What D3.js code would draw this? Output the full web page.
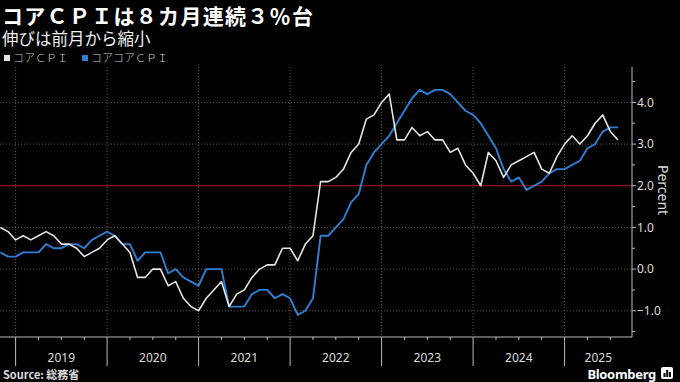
<!DOCTYPE html>
<html><head><meta charset="utf-8">
<script src="https://cdn.jsdelivr.net/npm/d3@7"></script>
<style>body{margin:0;background:#000}svg{display:block}</style>
</head><body>
<svg id="c" width="680" height="382"></svg>
<script>
// ---- data ----
const months = [
 "2018-10","2018-11","2018-12",
 "2019-01","2019-02","2019-03","2019-04","2019-05","2019-06","2019-07","2019-08","2019-09","2019-10","2019-11","2019-12",
 "2020-01","2020-02","2020-03","2020-04","2020-05","2020-06","2020-07","2020-08","2020-09","2020-10","2020-11","2020-12",
 "2021-01","2021-02","2021-03","2021-04","2021-05","2021-06","2021-07","2021-08","2021-09","2021-10","2021-11","2021-12",
 "2022-01","2022-02","2022-03","2022-04","2022-05","2022-06","2022-07","2022-08","2022-09","2022-10","2022-11","2022-12",
 "2023-01","2023-02","2023-03","2023-04","2023-05","2023-06","2023-07","2023-08","2023-09","2023-10","2023-11","2023-12",
 "2024-01","2024-02","2024-03","2024-04","2024-05","2024-06","2024-07","2024-08","2024-09","2024-10","2024-11","2024-12",
 "2025-01","2025-02","2025-03","2025-04","2025-05","2025-06","2025-07"
];
const coreCPI = [
 1.0, 0.9, 0.7,
 0.8, 0.7, 0.8, 0.9, 0.8, 0.6, 0.6, 0.5, 0.3, 0.4, 0.5, 0.7,
 0.8, 0.6, 0.4, -0.2, -0.2, 0.0, 0.0, -0.4, -0.3, -0.7, -0.9, -1.0,
 -0.7, -0.5, -0.3, -0.9, -0.6, -0.5, -0.2, 0.0, 0.1, 0.1, 0.5, 0.5,
 0.2, 0.6, 0.8, 2.1, 2.1, 2.2, 2.4, 2.8, 3.0, 3.6, 3.7, 4.0,
 4.2, 3.1, 3.1, 3.4, 3.2, 3.3, 3.1, 3.1, 2.8, 2.9, 2.5, 2.3,
 2.0, 2.8, 2.6, 2.2, 2.5, 2.6, 2.7, 2.8, 2.4, 2.3, 2.7, 3.0,
 3.2, 3.0, 3.2, 3.5, 3.7, 3.3, 3.1
];
const coreCoreCPI = [
 0.4, 0.3, 0.3,
 0.4, 0.4, 0.4, 0.6, 0.5, 0.5, 0.6, 0.6, 0.5, 0.7, 0.8, 0.9,
 0.8, 0.6, 0.6, 0.2, 0.4, 0.4, 0.4, -0.1, 0.0, -0.2, -0.3, -0.4,
 0.0, 0.0, 0.0, -0.9, -0.9, -0.9, -0.6, -0.5, -0.5, -0.7, -0.6, -0.7,
 -1.1, -1.0, -0.7, 0.8, 0.8, 1.0, 1.2, 1.6, 1.8, 2.5, 2.8, 3.0,
 3.2, 3.5, 3.8, 4.1, 4.3, 4.2, 4.3, 4.3, 4.2, 4.0, 3.8, 3.7,
 3.5, 3.2, 2.9, 2.4, 2.1, 2.2, 1.9, 2.0, 2.1, 2.3, 2.4, 2.4,
 2.5, 2.6, 2.9, 3.0, 3.3, 3.4, 3.4
];
const seriesNames = ["コアＣＰＩ", "コアコアＣＰＩ"];
const years = ["2019","2020","2021","2022","2023","2024","2025"];
const yTicks = [-1, 0, 1, 2, 3, 4];
const yMinorTicks = [-1.5, -0.5, 0.5, 1.5, 2.5, 3.5, 4.5];
const targetLine = 2.0;

// ---- layout ----
const W = 680, H = 382;
const plot = {left: 0, right: 632, top: 67, bottom: 337};
const colWhite = "#e6e6e6", colBlue = "#2f7fd3", colRed = "#b3161c";
const svg = d3.select("#c");
svg.append("rect").attr("width", W).attr("height", H).attr("fill", "#000");

// month index: 0 = start of Jan 2019; a month's value is plotted at its end
const monthIdx = m => { const [y, mo] = m.split("-").map(Number); return (y - 2019) * 12 + mo; };
const x = d3.scaleLinear().domain([0, 72]).range([15.6, 564.6]);
const y = d3.scaleLinear().domain([-1.63, 4.85]).range([plot.bottom, plot.top]);

// gridlines
const grid = svg.append("g");
grid.selectAll("line.h").data(yTicks.filter(v => v !== targetLine)).join("line")
  .attr("x1", plot.left).attr("x2", plot.right)
  .attr("y1", d => y(d)).attr("y2", d => y(d))
  .attr("stroke", "#5a5a5a").attr("stroke-width", 1).attr("stroke-dasharray", "1,2");
grid.selectAll("line.v").data(years.map((d, i) => i * 12)).join("line")
  .attr("x1", d => x(d)).attr("x2", d => x(d))
  .attr("y1", plot.top).attr("y2", plot.bottom)
  .attr("stroke", "#5a5a5a").attr("stroke-width", 1).attr("stroke-dasharray", "1,2");

// target line
svg.append("line").attr("x1", plot.left).attr("x2", plot.right)
  .attr("y1", y(targetLine)).attr("y2", y(targetLine))
  .attr("stroke", colRed).attr("stroke-width", 1.2);

// lines
const line = d3.line().x(d => x(monthIdx(d.m))).y(d => y(d.v));
const mk = arr => months.map((m, i) => ({m, v: arr[i]}));
svg.append("path").datum(mk(coreCoreCPI)).attr("d", line)
  .attr("fill", "none").attr("stroke", colBlue).attr("stroke-width", 1.9).attr("stroke-linejoin", "round");
svg.append("path").datum(mk(coreCPI)).attr("d", line)
  .attr("fill", "none").attr("stroke", colWhite).attr("stroke-width", 1.6).attr("stroke-linejoin", "round");

// y axis (right)
const yAxisG = svg.append("g");
yAxisG.append("line").attr("x1", plot.right).attr("x2", plot.right)
  .attr("y1", plot.top).attr("y2", plot.bottom).attr("stroke", "#bbb");
yAxisG.selectAll("line.mj").data(yTicks).join("line")
  .attr("x1", plot.right).attr("x2", plot.right + 4)
  .attr("y1", d => y(d)).attr("y2", d => y(d)).attr("stroke", "#bbb");
yAxisG.selectAll("line.mn").data(yMinorTicks).join("line")
  .attr("x1", plot.right).attr("x2", plot.right + 3)
  .attr("y1", d => y(d)).attr("y2", d => y(d)).attr("stroke", "#bbb");
yAxisG.selectAll("text").data(yTicks).join("text")
  .attr("x", plot.right + 5).attr("y", d => y(d)).attr("dy", "0.35em")
  .attr("fill", "#ddd").attr("font-family", "'Noto Sans', sans-serif").attr("font-size", 12)
  .text(d => d3.format(".1f")(d));
svg.append("text").attr("transform", "translate(658,190) rotate(90)")
  .attr("text-anchor", "middle").attr("fill", "#ddd")
  .attr("font-family", "'Noto Sans', sans-serif").attr("font-size", 14).text("Percent");

// x axis
const xAxisG = svg.append("g");
xAxisG.append("line").attr("x1", plot.left).attr("x2", plot.right)
  .attr("y1", plot.bottom).attr("y2", plot.bottom).attr("stroke", "#bbb");
const qTicks = d3.range(-2, 80).filter(i => i % 3 === 0 && i % 12 !== 0);
xAxisG.selectAll("line.q").data(qTicks).join("line")
  .attr("x1", d => x(d)).attr("x2", d => x(d))
  .attr("y1", plot.bottom).attr("y2", plot.bottom + 3).attr("stroke", "#bbb");
xAxisG.selectAll("line.yr").data(years.map((d, i) => i * 12)).join("line")
  .attr("x1", d => x(d)).attr("x2", d => x(d))
  .attr("y1", plot.bottom).attr("y2", 366).attr("stroke", "#bbb");
xAxisG.selectAll("text").data(years).join("text")
  .attr("x", (d, i) => (x(i * 12) + Math.min(x(i * 12 + 12), plot.right)) / 2)
  .attr("y", 362).attr("text-anchor", "middle")
  .attr("fill", "#ddd").attr("font-family", "'Noto Sans', sans-serif").attr("font-size", 12)
  .text(d => d);

// titles
const cjk = "'Noto Sans CJK JP', 'Noto Sans', sans-serif";
svg.append("text").attr("x", 2).attr("y", 23.5).attr("fill", "#fff")
  .attr("font-family", cjk).attr("font-size", 21).attr("font-weight", 700)
  .attr("letter-spacing", 1.3)
  .text("コアＣＰＩは８カ月連続３％台");
svg.append("text").attr("x", 2).attr("y", 45).attr("fill", "#f0f0f0")
  .attr("font-family", cjk).attr("font-size", 16.5)
  .text("伸びは前月から縮小");

// legend
const legendX = [4, 82];
const legendCols = [colWhite, colBlue];
seriesNames.forEach((n, i) => {
  svg.append("rect").attr("x", legendX[i]).attr("y", 55).attr("width", 6).attr("height", 6).attr("fill", legendCols[i]);
  svg.append("text").attr("x", legendX[i] + 9).attr("y", 62).attr("fill", "#ccc")
    .attr("font-family", cjk).attr("font-size", 11).attr("font-weight", 300).text(n);
});

// footer
svg.append("text").attr("x", 3).attr("y", 379).attr("fill", "#ddd")
  .attr("font-family", cjk).attr("font-size", 11).attr("font-weight", 700)
  .text("Source: 総務省");
svg.append("text").attr("x", 656).attr("y", 379).attr("text-anchor", "end").attr("fill", "#fff")
  .attr("font-family", "'Noto Sans', sans-serif").attr("font-size", 13).attr("font-weight", 700)
  .attr("letter-spacing", -0.3).text("Bloomberg");
const logo = svg.append("g").attr("transform", "translate(661,367)");
logo.append("rect").attr("width", 12).attr("height", 12).attr("rx", 2).attr("fill", "#fff");
[[2.5, 6, 2], [5.2, 3, 2], [7.9, 5, 2]].forEach(([bx, by, bw]) =>
  logo.append("rect").attr("x", bx).attr("y", by).attr("width", bw).attr("height", 10 - by).attr("fill", "#000"));
</script>
</body></html>
